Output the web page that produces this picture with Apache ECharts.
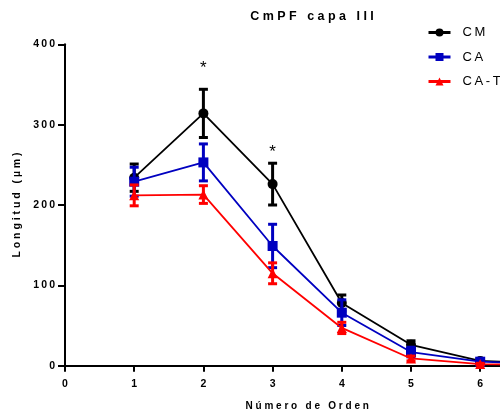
<!DOCTYPE html>
<html>
<head>
<meta charset="utf-8">
<script src="https://cdn.jsdelivr.net/npm/echarts@6/dist/echarts.min.js"></script>
<style>
  html, body { margin: 0; padding: 0; background: #fff; }
  #chart { width: 500px; height: 414px; }
</style>
</head>
<body>
<div id="chart"></div>
<script>
// Branch order (x) and mean length ± SEM for each group
const orders   = [1, 2, 3, 4, 5, 6, 7];
const cmMean   = [234, 314, 226, 78, 26, 6, 3];
const cmErr    = [17, 30, 26, 10, 5, 2, 0];
const caMean   = [229, 253, 149, 66, 17, 5, 2];
const caErr    = [18, 23, 27, 16, 6, 2, 0];
const catMean  = [212, 213, 115, 47, 9, 2, 1];
const catErr   = [13, 11, 13, 7, 3, 1, 0];
// significance asterisks: [order, height]
const starMarks = [[2, 370], [3, 265]];

const seriesNames = ['CM', 'CA', 'CA-T'];
const colors = ['#000000', '#0000c0', '#ff0000'];
const symbols = ['circle', 'rect', 'triangle'];
const means = [cmMean, caMean, catMean];
const errs = [cmErr, caErr, catErr];

const FONT = "'Liberation Sans', Arial, sans-serif";

// widen text by inserting a separator between letters
function spaced(str, sep) {
  sep = sep || ' ';
  return str.split(' ').map(w => w.split('').join(sep)).join(sep + ' ' + sep);
}
function digits(v) { return String(v).split('').join('\u2009'); }

function errRenderer(color) {
  return function (params, api) {
    const x = api.value(0), m = api.value(1), e = api.value(2);
    const top = api.coord([x, m + e]);
    const bot = api.coord([x, m - e]);
    const hw = 4.5;
    const style = { stroke: color, lineWidth: 3, fill: null };
    return {
      type: 'group',
      children: [
        { type: 'line', shape: { x1: top[0], y1: top[1], x2: bot[0], y2: bot[1] }, style: style },
        { type: 'line', shape: { x1: top[0] - hw, y1: top[1], x2: top[0] + hw, y2: top[1] }, style: style },
        { type: 'line', shape: { x1: bot[0] - hw, y1: bot[1], x2: bot[0] + hw, y2: bot[1] }, style: style }
      ]
    };
  };
}

const series = [];
seriesNames.forEach((name, k) => {
  series.push({
    name: name,
    type: 'line',
    data: orders.map((x, i) => [x, means[k][i]]),
    symbol: symbols[k],
    symbolSize: 10,
    color: colors[k],
    lineStyle: { color: colors[k], width: 1.8 },
    itemStyle: { color: colors[k] },
    clip: false,
    z: 2 + k * 2
  });
  series.push({
    name: name,
    type: 'custom',
    renderItem: errRenderer(colors[k]),
    data: orders.map((x, i) => [x, means[k][i], errs[k][i]]),
    encode: { x: 0, y: 1 },
    clip: false,
    z: 3 + k * 2
  });
});

series.push({
  type: 'custom',
  data: starMarks,
  encode: { x: 0, y: 1 },
  z: 10,
  renderItem: function (params, api) {
    const p = api.coord([api.value(0), api.value(1)]);
    return {
      type: 'text',
      x: p[0], y: p[1],
      style: { text: '*', fill: '#000', fontSize: 17, fontFamily: FONT, align: 'center', verticalAlign: 'middle' }
    };
  }
});

const chart = echarts.init(document.getElementById('chart'), null, { renderer: 'canvas' });
chart.setOption({
  animation: false,
  backgroundColor: '#ffffff',
  title: {
    text: spaced('CmPF capa III'),
    left: 307,
    top: 5,
    textAlign: 'center',
    textStyle: { fontFamily: FONT, fontSize: 12.5, fontWeight: 'bold', color: '#000' }
  },
  legend: {
    orient: 'vertical',
    left: 427,
    top: 26,
    padding: 0,
    itemWidth: 22,
    itemHeight: 10,
    itemGap: 11.5,
    data: seriesNames,
    formatter: n => spaced(n, '\u2009'),
    textStyle: { fontFamily: FONT, fontSize: 13, color: '#000', padding: [0, 0, 0, 7] },
    lineStyle: { width: 3 }
  },
  grid: { left: 65, top: 44.3, width: 484.4, height: 321.4, outerBoundsMode: 'none', containLabel: false },
  xAxis: {
    type: 'value',
    min: 0, max: 7, interval: 1,
    name: spaced('Número de Orden'),
    nameLocation: 'middle',
    nameGap: 36,
    nameTextStyle: { fontFamily: FONT, fontSize: 10, fontWeight: 'bold', color: '#000' },
    axisLine: { onZero: false, lineStyle: { color: '#000', width: 2 } },
    axisTick: { length: 6, lineStyle: { color: '#000', width: 2 } },
    axisLabel: { formatter: digits, margin: 13, fontFamily: FONT, fontSize: 10.5, fontWeight: 'bold', color: '#000' },
    splitLine: { show: false }
  },
  yAxis: {
    type: 'value',
    min: 0, max: 400, interval: 100,
    name: spaced('Longitud (µm)'),
    nameLocation: 'middle',
    nameGap: 41,
    nameTextStyle: { fontFamily: FONT, fontSize: 10.5, fontWeight: 'bold', color: '#000' },
    axisLine: { show: true, lineStyle: { color: '#000', width: 2 } },
    axisTick: { show: true, length: 7, lineStyle: { color: '#000', width: 2 } },
    axisLabel: { formatter: digits, margin: 10, fontFamily: FONT, fontSize: 10.5, fontWeight: 'bold', color: '#000' },
    splitLine: { show: false }
  },
  series: series
});
</script>
</body>
</html>
